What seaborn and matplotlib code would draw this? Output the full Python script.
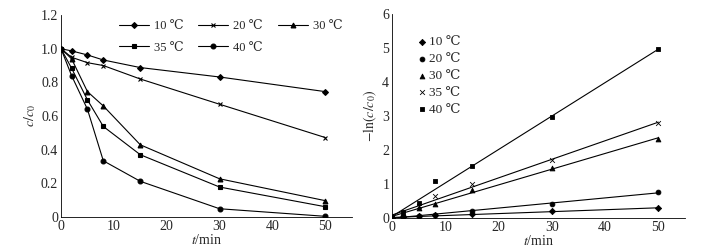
import numpy as np
import pandas as pd
import seaborn as sns
import matplotlib.pyplot as plt

# Data
t = [0, 2, 5, 8, 15, 30, 50]
temps = ["10 ℃", "20 ℃", "30 ℃", "35 ℃", "40 ℃"]

ratio_10 = [1.0, 0.987, 0.963, 0.933, 0.888, 0.832, 0.745]
ratio_20 = [1.0, 0.949, 0.917, 0.900, 0.820, 0.670, 0.472]
ratio_30 = [1.0, 0.940, 0.745, 0.660, 0.429, 0.227, 0.097]
ratio_35 = [1.0, 0.884, 0.696, 0.538, 0.370, 0.178, 0.061]
ratio_40 = [1.0, 0.840, 0.640, 0.334, 0.212, 0.049, 0.004]

ln_10 = [0.0, 0.02, 0.05, 0.08, 0.12, 0.20, 0.29]
ln_20 = [0.0, 0.05, 0.07, 0.10, 0.22, 0.42, 0.76]
ln_30 = [0.0, 0.12, 0.29, 0.42, 0.83, 1.47, 2.32]
ln_35 = [0.0, 0.14, 0.36, 0.64, 1.00, 1.71, 2.79]
ln_40 = [0.0, 0.17, 0.44, 1.10, 1.54, 2.96, 4.96]

left_ticks = [0, 0.2, 0.4, 0.6, 0.8, 1.0, 1.2]
left_tick_labels = ["0", "0.2", "0.4", "0.6", "0.8", "1.0", "1.2"]

sns.set_style("white")
plt.rcParams['font.family'] = ['Liberation Serif', 'DejaVu Serif']
plt.rcParams['mathtext.fontset'] = 'stix'
plt.rcParams['font.size'] = 10

fig = plt.figure(figsize=(7.12, 2.47), dpi=100)
ax1 = fig.add_axes([0.0857, 0.1215, 0.4083, 0.8175])
ax2 = fig.add_axes([0.5506, 0.117, 0.4115, 0.826])

# left panel: c/c0 vs t
left_series = [ratio_10, ratio_20, ratio_30, ratio_35, ratio_40]
left_markers = ["D", "x", "^", "s", "o"]
left_sizes = [3, 3.5, 3.5, 3.5, 3.5]
for lab, vals, mk, ms in zip(temps, left_series, left_markers, left_sizes):
    df = pd.DataFrame({"t": t, "c": vals})
    sns.lineplot(data=df, x="t", y="c", ax=ax1, color="black", lw=0.8,
                 marker=mk, markersize=ms, markeredgewidth=0.8,
                 markeredgecolor="black", label=lab)

ax1.set_xlim(0, 55)
ax1.set_ylim(0, 1.2)
ax1.set_xticks([0, 10, 20, 30, 40, 50])
ax1.set_yticks(left_ticks)
ax1.set_yticklabels(left_tick_labels)
ax1.set_xlabel(r"$t$/min", labelpad=0)
ax1.set_ylabel(r"$c/c_0$", labelpad=2)
# legend filled row by row: 10 20 30 / 35 40
h, l = ax1.get_legend_handles_labels()
order = [0, 3, 1, 4, 2]
ax1.legend([h[i] for i in order], [l[i] for i in order], ncol=3,
           loc="upper left", bbox_to_anchor=(0.16, 1.03), frameon=False,
           handlelength=2.4, handletextpad=0.4, columnspacing=1.2,
           labelspacing=0.75, fontsize=9)

# right panel: -ln(c/c0) vs t with linear fits
right_series = [ln_10, ln_20, ln_30, ln_35, ln_40]
right_markers = ["D", "o", "^", "x", "s"]
right_sizes = [10, 12, 12, 12, 12]
for lab, vals, mk, sz in zip(temps, right_series, right_markers, right_sizes):
    df = pd.DataFrame({"t": t, "y": vals})
    sns.regplot(data=df, x="t", y="y", ax=ax2, scatter=False, ci=None,
                color="black", line_kws={"lw": 0.8})
    sns.scatterplot(data=df, x="t", y="y", ax=ax2, marker=mk, s=sz,
                    color="black", edgecolor="black", linewidth=0.6, label=lab)

ax2.set_xlim(0, 55)
ax2.set_ylim(0, 6)
ax2.set_xticks([0, 10, 20, 30, 40, 50])
ax2.set_yticks([0, 1, 2, 3, 4, 5, 6])
ax2.set_xlabel(r"$t$/min", labelpad=0)
ax2.set_ylabel(r"$-\mathrm{ln}(c/c_0)$", labelpad=2)
ax2.legend(loc="upper left", bbox_to_anchor=(0.05, 0.95), frameon=False,
           handlelength=0.5, handletextpad=0.3, labelspacing=0.35, fontsize=9.5)

for ax in (ax1, ax2):
    sns.despine(ax=ax)
    ax.tick_params(direction="in", length=3, width=0.6, pad=2, labelsize=10)
    for sp in ("left", "bottom"):
        ax.spines[sp].set_linewidth(0.6)
        ax.spines[sp].set_color("black")

fig.savefig("out.png", dpi=100)
